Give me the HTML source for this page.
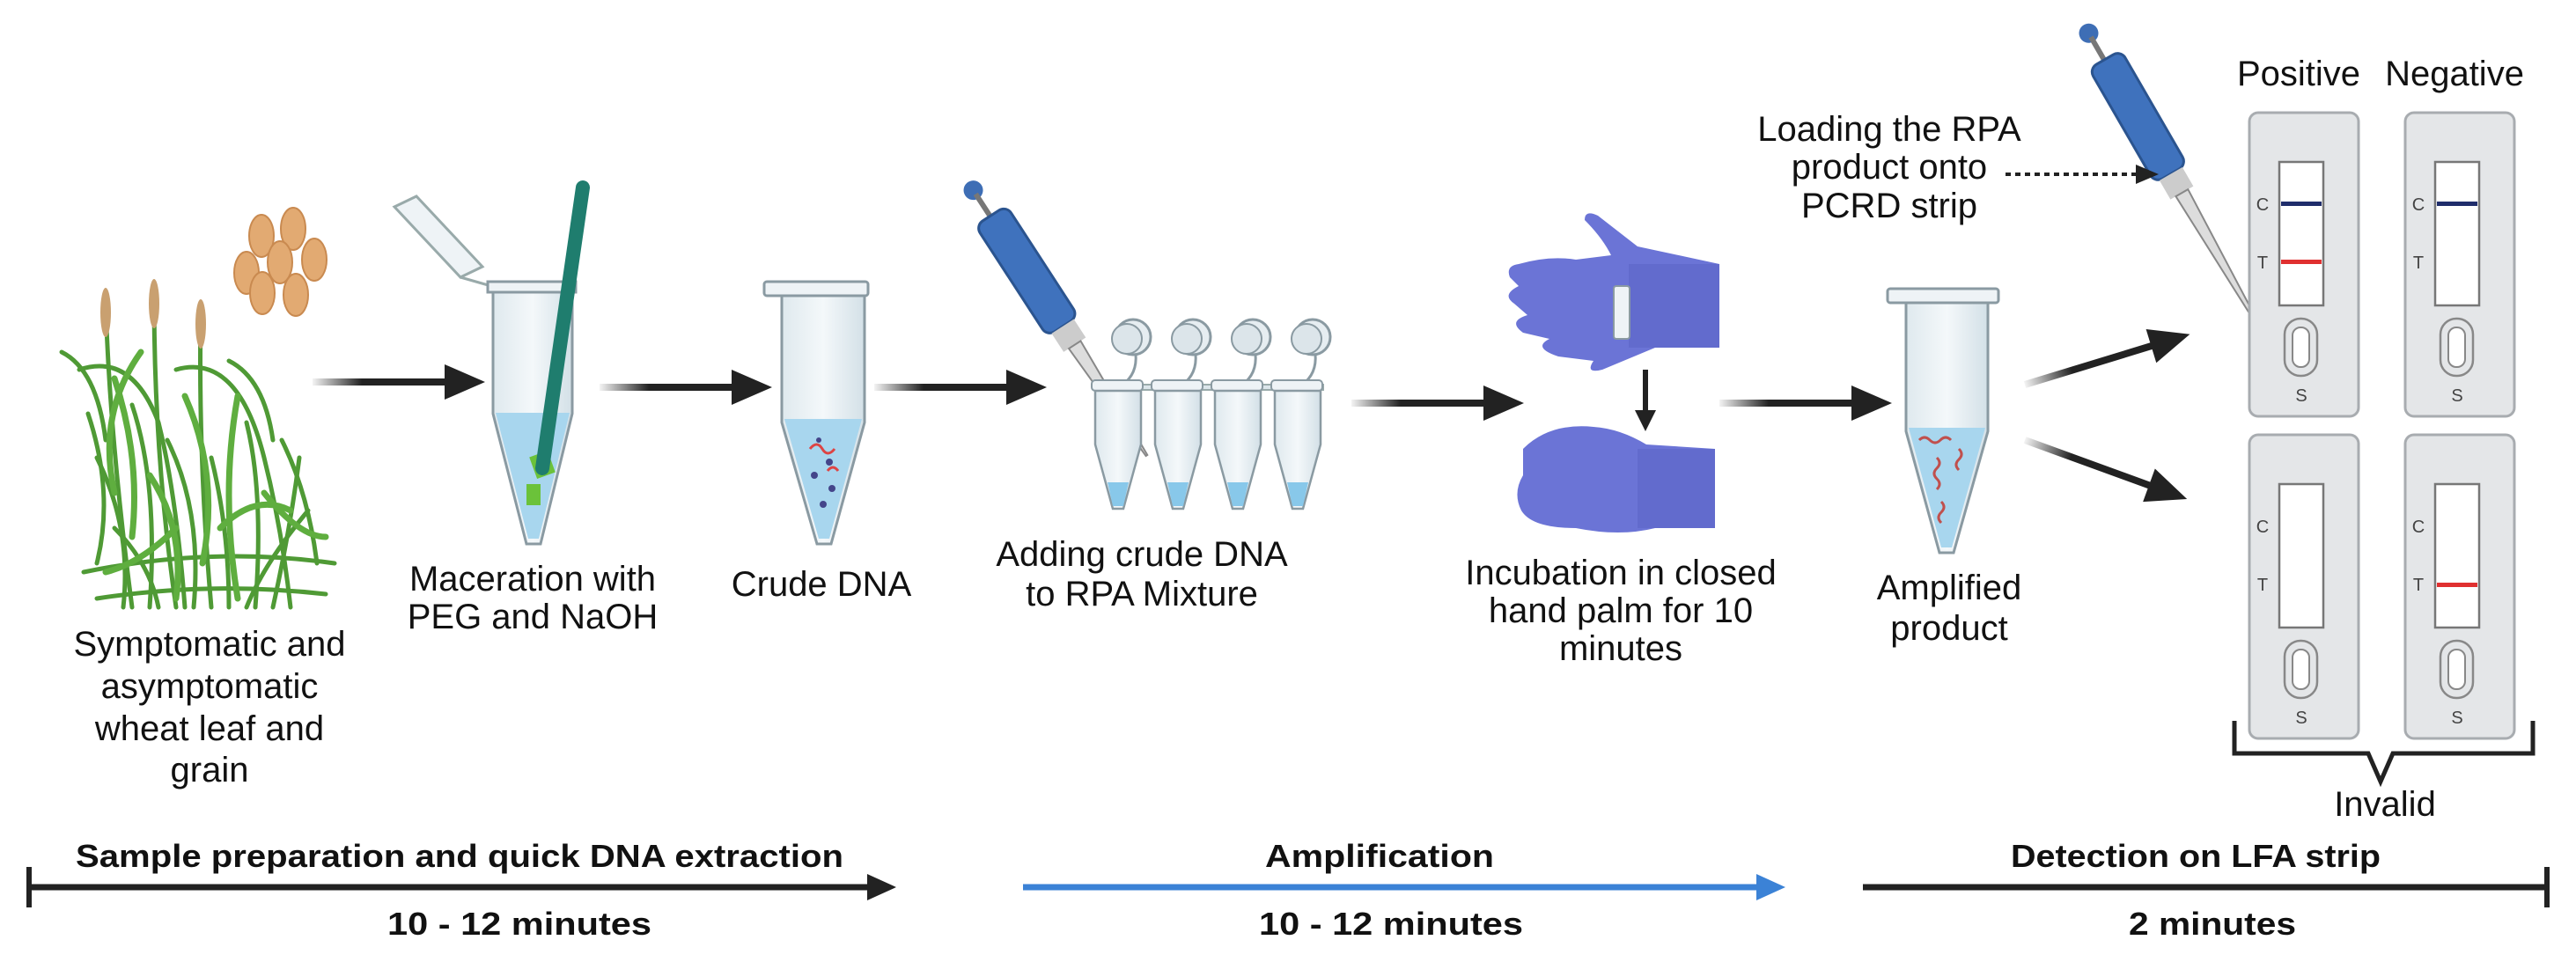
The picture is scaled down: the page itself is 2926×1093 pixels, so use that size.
<!DOCTYPE html>
<html><head><meta charset="utf-8"><style>
html,body{margin:0;padding:0;background:#fff}
svg{display:block}
text{font-family:"Liberation Sans",sans-serif;fill:#111}
.l{font-size:40px;text-anchor:middle}
.b{font-size:36px;font-weight:bold;text-anchor:middle}
.s{font-size:20px;fill:#444;text-anchor:middle}
</style></head><body>
<svg width="2926" height="1093" viewBox="0 0 2926 1093" xmlns="http://www.w3.org/2000/svg">
<defs>
<linearGradient id="ag" x1="0" x2="1" y1="0" y2="0"><stop offset="0" stop-color="#222" stop-opacity="0.05"/><stop offset="0.35" stop-color="#222"/><stop offset="1" stop-color="#222"/></linearGradient>
<linearGradient id="tg" x1="0" x2="1"><stop offset="0" stop-color="#dfe9ee"/><stop offset="0.5" stop-color="#f4f8fa"/><stop offset="1" stop-color="#d3e0e7"/></linearGradient>
<g id="arr"><rect x="0" y="-4" width="160" height="8" fill="url(#ag)"/><polygon points="150,-20 196,0 150,20" fill="#222"/></g>
</defs>

<!-- wheat grains -->
<g fill="#e2aa72" stroke="#c98a50" stroke-width="2">
<ellipse cx="297" cy="268" rx="14" ry="24"/><ellipse cx="333" cy="260" rx="14" ry="24"/>
<ellipse cx="280" cy="310" rx="14" ry="24"/><ellipse cx="318" cy="298" rx="14" ry="24"/><ellipse cx="357" cy="295" rx="14" ry="24"/>
<ellipse cx="298" cy="333" rx="14" ry="24"/><ellipse cx="336" cy="335" rx="14" ry="24"/>
</g>
<!-- wheat plant -->
<g stroke="#4f9a35" stroke-width="5" fill="none" stroke-linecap="round">
<path d="M120 345 Q125 500 150 690"/><path d="M175 335 Q175 520 200 690"/><path d="M228 358 Q225 520 240 690"/>
<path d="M90 420 Q150 400 180 480 Q200 560 210 690"/><path d="M70 400 Q110 420 120 500"/>
<path d="M200 420 Q270 400 300 520 Q320 600 330 690"/><path d="M260 410 Q300 430 310 500"/>
<path d="M100 470 Q130 560 110 640"/><path d="M150 460 Q180 550 170 690"/><path d="M280 480 Q300 560 290 690"/>
<path d="M110 520 Q150 600 140 690"/><path d="M320 500 Q350 560 360 640"/><path d="M340 520 Q330 600 310 690"/>
<path d="M95 650 Q240 620 380 640"/><path d="M110 680 Q240 660 370 675"/><path d="M240 520 Q260 600 260 690"/>
<path d="M190 500 Q230 580 220 690"/><path d="M130 600 Q170 640 180 690"/><path d="M350 580 Q300 640 280 690"/>
</g>
<g stroke="#5fae3f" stroke-width="7" fill="none" stroke-linecap="round">
<path d="M130 430 Q160 520 150 610"/><path d="M210 450 Q250 540 230 640"/><path d="M270 450 Q250 560 270 680"/>
<path d="M160 400 Q110 470 130 560"/><path d="M300 560 Q340 610 370 610"/><path d="M200 600 Q160 640 120 650"/>
<path d="M250 600 Q290 560 330 580"/><path d="M170 540 Q210 600 200 680"/>
</g>
<g fill="#c9a070"><ellipse cx="120" cy="355" rx="6" ry="28"/><ellipse cx="175" cy="345" rx="6" ry="28"/><ellipse cx="228" cy="368" rx="6" ry="28"/></g>

<!-- tube 1 maceration -->
<path d="M448 235 l25 -12 l75 80 l-25 12z" fill="#eef3f6" stroke="#9aa" stroke-width="3"/>
<path d="M523 315 l35 10" stroke="#9aa" stroke-width="3"/>
<rect x="554" y="320" width="100" height="12" fill="#eef3f6" stroke="#8a9aa2" stroke-width="3"/>
<path d="M560 332 L560 470 L598 618 L614 618 L650 470 L650 332 Z" fill="url(#tg)" stroke="#8a9aa2" stroke-width="3"/>
<path d="M563 469 L647 469 L612 612 L600 612 Z" fill="#a8d6ee"/>
<rect x="605" y="515" width="22" height="26" fill="#6bc23a" transform="rotate(-20 616 528)"/>
<rect x="598" y="550" width="16" height="24" fill="#6bc23a"/>
<path d="M662 213 L616 532" stroke="#1f7d6e" stroke-width="16" stroke-linecap="round"/>

<!-- tube 2 crude DNA -->
<rect x="868" y="320" width="118" height="16" rx="3" fill="#eef3f6" stroke="#8a9aa2" stroke-width="3"/>
<path d="M888 336 L888 480 L928 618 L944 618 L982 480 L982 336 Z" fill="url(#tg)" stroke="#8a9aa2" stroke-width="3"/>
<path d="M891 476 L979 476 L942 612 L930 612 Z" fill="#a8d6ee"/>
<g fill="#44458a"><circle cx="930" cy="500" r="3"/><circle cx="942" cy="525" r="4"/><circle cx="925" cy="540" r="4"/><circle cx="945" cy="555" r="4"/><circle cx="935" cy="573" r="4"/></g>
<path d="M920 510 q8 -10 14 0 q6 10 14 0 M940 535 q6 -8 12 0" stroke="#d44" stroke-width="3" fill="none"/>

<!-- pipette 1 -->
<g transform="rotate(-33 1160 300)">
<circle cx="1160" cy="200" r="11" fill="#3e6eb5"/><rect x="1157" y="205" width="6" height="30" fill="#777"/>
<rect x="1140" y="235" width="42" height="150" rx="10" fill="#3f72bd" stroke="#2b548f" stroke-width="3"/>
<rect x="1146" y="385" width="30" height="25" fill="#ccc"/>
<path d="M1153 410 L1169 410 L1162 560 L1160 560 Z" fill="#ddd" stroke="#888" stroke-width="2"/>
</g>

<!-- pcr strip -->
<g>
<rect x="1243" y="437" width="260" height="6" fill="#dbe5ea" stroke="#9aa" stroke-width="2"/>
<g id="pt">
<circle cx="1287" cy="383" r="20" fill="#e6edf1" stroke="#8a9aa2" stroke-width="3"/>
<circle cx="1280" cy="385" r="17" fill="#dce5ea" stroke="#8a9aa2" stroke-width="2"/>
<path d="M1290 402 Q1292 425 1275 437" stroke="#8a9aa2" stroke-width="3" fill="none"/>
<rect x="1240" y="432" width="58" height="12" rx="4" fill="#eef3f6" stroke="#8a9aa2" stroke-width="2"/>
<path d="M1244 444 L1244 505 L1264 578 L1276 578 L1296 505 L1296 444 Z" fill="url(#tg)" stroke="#8a9aa2" stroke-width="2.5"/>
<path d="M1258 548 L1282 548 L1276 575 L1264 575 Z" fill="#88c8ea"/>
</g>
<use href="#pt" x="68"/><use href="#pt" x="136"/><use href="#pt" x="204"/>
</g>

<!-- hands -->
<g fill="#6b74d6">
<path d="M1725 300 Q1760 290 1790 295 L1830 290 Q1820 270 1800 250 Q1800 238 1815 245 L1860 280 L1953 300 L1953 395 L1880 395 L1820 420 Q1800 425 1810 410 L1770 405 Q1740 395 1760 385 L1730 378 Q1712 365 1735 358 L1720 345 Q1705 335 1725 325 L1715 315 Q1710 302 1725 300 Z"/>
<path d="M1730 510 Q1760 480 1810 485 Q1840 487 1870 505 L1948 510 L1948 600 L1880 600 Q1840 610 1790 600 Q1740 600 1728 580 Q1718 560 1730 540 Z"/>
</g>
<g fill="#5a62c4" opacity="0.5"><rect x="1850" y="300" width="103" height="95"/><rect x="1860" y="510" width="88" height="90"/></g>
<rect x="1833" y="325" width="18" height="60" rx="3" fill="#eef3f6" stroke="#8a9aa2" stroke-width="2"/>
<line x1="1869" y1="420" x2="1869" y2="470" stroke="#222" stroke-width="6"/><polygon points="1857,466 1881,466 1869,490" fill="#222"/>

<!-- tube 3 amplified -->
<rect x="2144" y="328" width="126" height="16" rx="3" fill="#eef3f6" stroke="#8a9aa2" stroke-width="3"/>
<path d="M2165 344 L2165 490 L2203 628 L2219 628 L2258 490 L2258 344 Z" fill="url(#tg)" stroke="#8a9aa2" stroke-width="3"/>
<path d="M2168 486 L2255 486 L2217 622 L2205 622 Z" fill="#a8d6ee"/>
<path d="M2180 500 q6 -6 12 0 q6 6 12 0 q6 -6 12 0 M2200 520 q6 6 0 12 q-6 6 0 12 q6 6 0 12 M2225 510 q6 6 0 12 q-6 6 0 12 M2205 570 q6 6 0 12 q-6 6 0 12" stroke="#c0504d" stroke-width="3" fill="none"/>

<!-- pipette 2 -->
<g transform="rotate(-30 2420 120)">
<circle cx="2420" cy="25" r="11" fill="#3e6eb5"/><rect x="2417" y="30" width="6" height="30" fill="#777"/>
<rect x="2400" y="60" width="42" height="150" rx="10" fill="#3f72bd" stroke="#2b548f" stroke-width="3"/>
<rect x="2406" y="210" width="30" height="25" fill="#ccc"/>
<path d="M2413 235 L2429 235 L2422 420 L2420 420 Z" fill="#ddd" stroke="#888" stroke-width="2"/>
</g>

<!-- strips -->
<g id="card">
<rect x="2555" y="128" width="124" height="345" rx="10" fill="#e4e6e8" stroke="#a8acb0" stroke-width="3"/>
<rect x="2589" y="184" width="50" height="163" fill="#fff" stroke="#777" stroke-width="2.5"/>
<rect x="2595" y="362" width="37" height="65" rx="18" fill="#e4e6e8" stroke="#888" stroke-width="2.5"/>
<rect x="2604" y="372" width="19" height="45" rx="9" fill="#fff" stroke="#888" stroke-width="2"/>
<text x="2570" y="239" class="s">C</text><text x="2570" y="305" class="s">T</text><text x="2614" y="456" class="s">S</text>
</g>
<use href="#card" x="177"/><use href="#card" y="366"/><use href="#card" x="177" y="366"/>
<rect x="2591" y="229" width="46" height="5" fill="#1f2d6b"/><rect x="2591" y="295" width="46" height="5" fill="#e03030"/>
<rect x="2768" y="229" width="46" height="5" fill="#1f2d6b"/>
<rect x="2768" y="662" width="46" height="5" fill="#e03030"/>
<path d="M2538 819 L2538 856 L2690 856 L2704 888 L2718 856 L2877 856 L2877 819" stroke="#222" stroke-width="5" fill="none"/>

<!-- arrows -->
<use href="#arr" x="355" y="434"/><use href="#arr" x="681" y="440"/><use href="#arr" x="993" y="440"/>
<use href="#arr" x="1535" y="458"/><use href="#arr" x="1953" y="458"/>
<use href="#arr" transform="translate(2300 437) rotate(-17)"/>
<use href="#arr" transform="translate(2300 500) rotate(20)"/>
<line x1="2278" y1="198" x2="2428" y2="198" stroke="#222" stroke-width="4" stroke-dasharray="6 5"/><polygon points="2426,187 2452,198 2426,209" fill="#222"/>

<!-- labels -->
<text class="l" x="238" y="745">Symptomatic and</text><text class="l" x="238" y="793">asymptomatic</text><text class="l" x="238" y="841">wheat leaf and</text><text class="l" x="238" y="888">grain</text>
<text class="l" x="605" y="671">Maceration with</text><text class="l" x="605" y="714">PEG and NaOH</text>
<text class="l" x="933" y="677">Crude DNA</text>
<text class="l" x="1297" y="643">Adding crude DNA</text><text class="l" x="1297" y="688">to RPA Mixture</text>
<text class="l" x="1841" y="664">Incubation in closed</text><text class="l" x="1841" y="707">hand palm for 10</text><text class="l" x="1841" y="750">minutes</text>
<text class="l" x="2214" y="681">Amplified</text><text class="l" x="2214" y="727">product</text>
<text class="l" x="2146" y="160">Loading the RPA</text><text class="l" x="2146" y="203">product onto</text><text class="l" x="2146" y="247">PCRD strip</text>
<text class="l" x="2611" y="97">Positive</text><text class="l" x="2788" y="97">Negative</text>
<text class="l" x="2709" y="927">Invalid</text>

<!-- timeline -->
<line x1="33" y1="1008" x2="990" y2="1008" stroke="#222" stroke-width="7"/><line x1="33" y1="985" x2="33" y2="1031" stroke="#222" stroke-width="6"/><polygon points="985,993 1018,1008 985,1023" fill="#222"/>
<text class="b" x="522" y="985" textLength="872" lengthAdjust="spacingAndGlyphs">Sample preparation and quick DNA extraction</text>
<text class="b" x="590" y="1062" textLength="300" lengthAdjust="spacingAndGlyphs">10 - 12 minutes</text>
<line x1="1162" y1="1008" x2="2000" y2="1008" stroke="#3b82d6" stroke-width="7"/><polygon points="1995,993 2028,1008 1995,1023" fill="#3b82d6"/>
<text class="b" x="1567" y="985" textLength="260" lengthAdjust="spacingAndGlyphs">Amplification</text>
<text class="b" x="1580" y="1062" textLength="300" lengthAdjust="spacingAndGlyphs">10 - 12 minutes</text>
<line x1="2116" y1="1008" x2="2893" y2="1008" stroke="#222" stroke-width="7"/><line x1="2893" y1="985" x2="2893" y2="1031" stroke="#222" stroke-width="6"/>
<text class="b" x="2494" y="985" textLength="420" lengthAdjust="spacingAndGlyphs">Detection on LFA strip</text>
<text class="b" x="2513" y="1062" textLength="190" lengthAdjust="spacingAndGlyphs">2 minutes</text>
</svg>
</body></html>
